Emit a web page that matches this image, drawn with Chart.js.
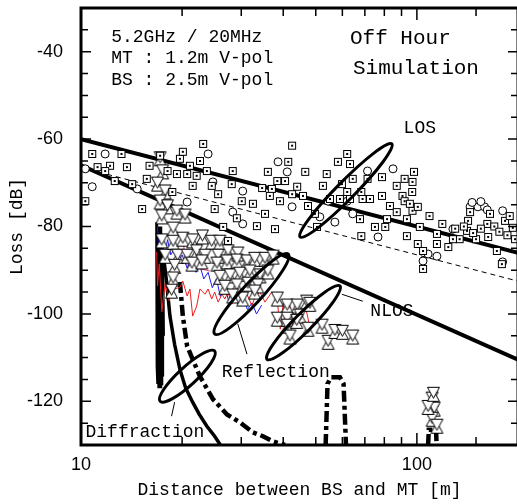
<!DOCTYPE html>
<html>
<head>
<meta charset="utf-8">
<script src="https://cdn.jsdelivr.net/npm/chart.js@4.4.0/dist/chart.umd.min.js"></script>
<style>
  html, body { margin: 0; padding: 0; background: #fff; overflow: hidden; }
  #wrap { width: 540px; height: 504px; }
</style>
</head>
<body>
<div id="wrap"><canvas id="loss-chart"></canvas></div>
<script>
// axis ranges
const X_MIN = 10, X_MAX = 200;
const Y_MIN = -130, Y_MAX = -30;
const X_LABELS = [10, 100];

// [distance m, loss dB]
const losSquares = [
  [10.8,-63.4],[13.2,-63.4],[23.1,-61.1],[11.2,-66.4],[12.2,-66.1],[13.7,-66.4],[11.8,-67.3],[12.6,-69.6],
  [14.2,-70.3],[15.7,-69.1],[16.0,-66.1],[18.1,-67.3],[19.3,-68.0],[20.7,-68.0],[21.1,-66.1],[19.7,-64.5],
  [20.1,-62.9],[22.6,-65.0],[23.7,-67.3],[22.1,-68.4],[21.5,-70.7],[24.5,-70.7],[25.6,-72.6],[28.1,-70.3],
  [28.3,-67.3],[30.1,-74.2],[25.0,-76.0],[29.1,-78.1],[26.5,-80.1],[27.4,-83.3],[18.7,-72.1],[15.2,-76.0],
  [10.3,-74.2],[17.2,-63.8],
  [42.5,-61.5],[41.4,-65.2],[36.0,-67.5],[38.4,-69.6],[40.5,-69.6],[46.5,-67.5],[44.0,-70.9],[34.6,-71.2],
  [37.0,-71.4],[39.1,-74.2],[36.5,-73.0],[32.5,-74.8],[35.3,-77.1],[33.4,-79.9],[37.8,-80.6],[42.5,-72.6],
  [45.8,-73.0],[47.4,-75.3],[49.7,-77.1],[50.4,-80.1],[53.9,-68.0],[52.5,-70.7],[55.1,-73.7],[59.0,-73.7],
  [59.8,-70.3],[58.2,-65.2],[62.0,-63.4],[63.2,-65.7],[64.4,-69.1],[62.0,-72.1],[63.2,-73.7],[68.3,-72.1],
  [71.3,-69.1],[68.9,-73.7],[72.5,-73.7],[67.7,-78.3],[75.0,-80.1],[80.5,-80.1],[68.3,-82.2],[78.7,-68.7],
  [78.7,-73.0],[83.1,-75.3],[87.1,-70.7],[90.6,-73.0],[91.9,-69.1],[97.0,-69.8],[98.0,-67.5],[93.4,-82.2],
  [97.0,-76.4],[93.4,-78.3],[81.5,-78.3],[87.1,-76.7],
  [96.8,-72.1],[91.9,-74.2],[95.3,-74.8],[100.6,-75.5],[109,-77.6],[102,-80.1],[100.6,-84.0],[104.3,-85.6],
  [114.7,-84.0],[114.7,-81.7],[119,-79.4],[104.3,-89.7],[142,-78.7],[141,-81.0],[134,-82.9],[150,-82.9],
  [162,-79.4],[163,-82.4],[173,-85.6],[179,-88.6],[183,-78.7],[128,-82.9],[124,-84.7],[144,-76.7],
  [165,-77.1],[189,-77.6],[196,-82.9],[130,-80.5],[138,-80.0],[147,-81.5],[155,-80.5],[170,-80.0],
  [176,-81.2],[186,-82.0],[193,-80.3]
];
const losCircles = [
  [11.8,-63.4],[10.3,-66.8],[10.8,-70.9],[20.7,-74.4],[14.7,-71.4],[23.9,-63.4],[30.3,-71.9],[28.3,-76.7],
  [30.3,-79.4],[24.7,-69.8],[38.6,-65.2],[41.1,-67.5],[42.5,-75.5],[54.4,-74.2],[57.0,-79.0],[64.4,-77.1],
  [71.3,-67.3],[84.9,-66.8],[76.6,-82.4],[51.4,-77.8],[62.0,-74.2],[144,-75.5],[152,-75.5],[159,-75.5],
  [180,-76.4],[128,-80.6],[114.7,-86.8],[108,-86.3],[104.3,-87.9],[180,-88.1],[146,-74.5],[155,-74.3],
  [162,-76.2]
];
const nlosTriangles = [
  [17.2,-64.5],[17.5,-67.5],[16.9,-70.3],[17.8,-72.1],[17.2,-74.4],[18.1,-75.5],[17.4,-77.8],[19.3,-76.7],
  [20.4,-77.6],[18.8,-80.6],
  [17.4,-83.3],[17.8,-86.8],[18.8,-83.6],[20.1,-82.9],[21.5,-83.3],[23.0,-82.4],[24.5,-83.6],[25.9,-83.6],
  [19.4,-86.8],[20.7,-86.8],[22.1,-85.8],[23.4,-86.8],[25.6,-86.8],[27.4,-85.8],[29.3,-86.3],[19.0,-89.1],
  [21.4,-88.6],[22.9,-88.1],[25.4,-88.6],[27.2,-88.1],[29.1,-87.9],[31.2,-88.1],[32.9,-87.5],[35.3,-87.5],
  [37.3,-87.0],[25.9,-91.6],[27.8,-91.3],[29.7,-90.9],[31.8,-90.4],[34.1,-91.3],[36.0,-90.4],[26.8,-93.9],
  [29.1,-93.6],[31.4,-93.2],[33.6,-93.6],[28.3,-95.9],[30.3,-96.6],[32.9,-95.0],[18.8,-92.0],[18.6,-94.8],
  [38.4,-96.6],[41.1,-98.2],[44.0,-98.2],[47.0,-97.3],[38.4,-101.2],[41.1,-101.2],[44.9,-100.5],[48.0,-97.8],
  [41.1,-102.8],[41.9,-105.3],[43.9,-101.7],[47.4,-103.5],[52.2,-102.8],[54.4,-106.5],[57.0,-104.0],[60.0,-104.2],
  [64.4,-105.3],
  [111,-119.5],[112.6,-121.8],[111,-124.1],[114.7,-125.7],[108,-121.4],[112,-118.4]
];
const simRed = [
  [16.8,-85.8],[16.9,-93.6],[17.1,-88.5],[17.4,-99.5],[17.8,-93.0],[18.3,-97.0],[18.8,-93.5],[19.0,-94.3],
  [19.7,-93.9],[20.1,-92.5],[20.7,-95.9],[21.1,-94.3],[21.5,-100.5],[22.1,-98.2],[22.6,-94.3],[23.4,-95.5],
  [23.9,-94.3],[24.5,-96.6],[25.0,-95.0],[25.6,-97.3],[26.3,-95.5],[26.8,-96.6],[27.4,-95.0],[28.1,-97.8],
  [28.7,-96.2],[29.3,-95.0],[30.1,-97.1],[31.2,-95.5],[32.3,-98.2],[32.9,-96.2],[34.1,-95.0],[35.3,-97.3],
  [37.0,-95.0],[38.4,-97.0],[39.2,-103.5],[40.0,-97.5],[40.8,-104.0],[41.8,-98.0],[42.8,-103.0],[44.0,-97.5],
  [45.0,-102.5],[46.5,-98.0],[48.0,-103.0]
];
const simBlue = [
  [16.9,-80.0],[17.0,-84.0],[17.3,-82.0],[17.7,-87.0],[18.1,-83.0],[18.5,-86.5],[19.0,-85.0],[19.5,-88.0],
  [20.0,-86.5],[20.7,-89.5],[21.3,-87.5],[22.0,-90.5],[22.6,-89.0],[23.2,-92.0],[23.9,-90.5],[24.6,-94.0],
  [25.3,-92.0],[26.0,-96.0],[26.8,-93.5],[27.6,-97.5],[28.5,-95.0],[29.4,-98.0],[30.3,-96.0],[31.3,-99.0],
  [32.3,-97.5],[33.3,-100.0],[34.5,-98.0]
];
const simPink = [[20.2,-84.0],[20.5,-88.5],[21.2,-89.3],[22.4,-89.6],[23.6,-90.0],[24.2,-90.2]];
const diffSpikes = [
  [16.8,-79],[16.85,-112],[16.9,-80],[16.95,-116],[17.0,-80],[17.05,-117],[17.1,-80],[17.15,-117],
  [17.2,-82],[17.25,-117],[17.3,-80],[17.35,-116],[17.4,-82],[17.45,-114],[17.5,-84],[17.6,-105]
];
const diffSolid = [
  [17.5,-85.2],[18.0,-93.0],[18.4,-100.5],[19.0,-107.0],[19.7,-112.7],[20.5,-117.0],[21.5,-120.2],
  [22.5,-123.0],[23.7,-125.7],[25.0,-128.0],[26.0,-130.0]
];
const diffDashed = [
  [19.7,-92.7],[20.1,-100.5],[20.7,-107.4],[22.6,-114.3],[24.7,-119.5],[27.2,-123.0],[29.7,-124.8],
  [32.5,-127.1],[34.8,-128.0],[37.3,-129.2],[40.5,-130.0],[45,null],
  [53.5,-130.0],[54.2,-116.0],[55.5,-114.5],[59.0,-114.5],[60.5,-116.0],[61.5,-130.0],[65,null],
  [108,-130.0],[108.5,-126.5],[114,-126.5],[114.5,-130.0]
];
const losUpper = [[10,-60],[200,-86]];
const nlosLower = [[10,-66],[200,-110.5]];
const losMid = [[10,-66.5],[200,-92.5]];

// annotations, in data units
const ellipses = [
  { from: [44.9,-82.4], to: [84.2,-61.1], r: 9 },
  { from: [35.8,-110.4], to: [59.0,-93.6], r: 9 },
  { from: [25.0,-104.6], to: [41.4,-86.3], r: 10 },
  { from: [17.2,-120.0], to: [25.0,-108.5], r: 9 }
];
const leaders = [
  [[59.8,-95.5],[69.0,-97.1]],
  [[29.3,-102.3],[31.2,-109.2]],
  [[19.0,-120.2],[18.6,-123.4]]
];
const notes = [
  { text: '5.2GHz / 20MHz', at: [12.3,-36.6], align: 'left', size: 18 },
  { text: 'MT : 1.2m V-pol', at: [12.3,-41.6], align: 'left', size: 18 },
  { text: 'BS : 2.5m V-pol', at: [12.3,-46.6], align: 'left', size: 18 },
  { text: 'Off Hour', at: [63.2,-37.0], align: 'left', size: 21 },
  { text: 'Simulation', at: [64.5,-43.9], align: 'left', size: 21 },
  { text: 'LOS', at: [102,-57.6], align: 'center', size: 18 },
  { text: 'NLOS', at: [84.3,-99.4], align: 'center', size: 18 },
  { text: 'Reflection', at: [38.0,-113.4], align: 'center', size: 18 },
  { text: 'Diffraction', at: [15.5,-127.1], align: 'center', size: 18 }
];

const MONO = '"Liberation Mono", "DejaVu Sans Mono", monospace';
const PLOT_RIGHT = 518; // right frame sits just outside the 517px window

function toXY(pairs) {
  return pairs.map(([x, y]) => ({ x: x, y: y }));
}

// marker images
function squareMark() {
  const c = document.createElement('canvas');
  c.width = 10; c.height = 10;
  const g = c.getContext('2d');
  g.fillStyle = '#fff'; g.fillRect(1, 1, 8, 8);
  g.strokeStyle = '#000'; g.lineWidth = 1; g.strokeRect(1.5, 1.5, 7, 7);
  g.fillStyle = '#000'; g.fillRect(4, 4, 2, 2);
  return c;
}
function starMark() {
  const c = document.createElement('canvas');
  c.width = 15; c.height = 17;
  const g = c.getContext('2d');
  g.fillStyle = '#fff'; g.strokeStyle = '#000'; g.lineWidth = 1;
  g.beginPath(); g.moveTo(1.5, 15.5); g.lineTo(13.5, 15.5); g.lineTo(7.5, 4.5); g.closePath(); g.fill(); g.stroke();
  g.beginPath(); g.moveTo(1.5, 1.5); g.lineTo(13.5, 1.5); g.lineTo(7.5, 12.5); g.closePath(); g.fill(); g.stroke();
  return c;
}

function lineSet(pairs, color, width, dash, order) {
  return {
    data: toXY(pairs), showLine: true, borderColor: color, borderWidth: width,
    borderDash: dash || [], pointRadius: 0, spanGaps: false, order: order, tension: 0
  };
}

const framePlugin = {
  id: 'frame',
  afterDatasetsDraw(chart) {
    const { ctx, scales: { x, y } } = chart;
    const px = p => [x.getPixelForValue(p[0]), y.getPixelForValue(p[1])];
    ctx.save();
    ctx.strokeStyle = '#000';
    ctx.lineWidth = 3;
    ellipses.forEach(e => {
      const [x1, y1] = px(e.from), [x2, y2] = px(e.to);
      const a = Math.hypot(x2 - x1, y2 - y1) / 2;
      ctx.beginPath();
      ctx.ellipse((x1 + x2) / 2, (y1 + y2) / 2, a, e.r, Math.atan2(y2 - y1, x2 - x1), 0, Math.PI * 2);
      ctx.stroke();
    });
    ctx.lineWidth = 1;
    leaders.forEach(([p1, p2]) => {
      const [x1, y1] = px(p1), [x2, y2] = px(p2);
      ctx.beginPath(); ctx.moveTo(x1, y1); ctx.lineTo(x2, y2); ctx.stroke();
    });
    ctx.fillStyle = '#000';
    ctx.textBaseline = 'middle';
    notes.forEach(n => {
      const [tx, ty] = px(n.at);
      ctx.font = n.size + 'px ' + MONO;
      ctx.textAlign = n.align;
      ctx.fillText(n.text, tx, ty);
    });
    ctx.restore();
  },
  afterDraw(chart) {
    const { ctx, chartArea: a, scales: { x, y } } = chart;
    ctx.save();
    ctx.strokeStyle = '#000';
    ctx.lineWidth = 1.5;
    ctx.beginPath();
    y.ticks.forEach(t => {
      const py = y.getPixelForValue(t.value);
      const len = t.value % 20 === 0 ? 10 : 7;
      ctx.moveTo(a.left, py); ctx.lineTo(a.left + len, py);
      ctx.moveTo(a.right, py); ctx.lineTo(a.right - len, py);
    });
    x.ticks.forEach(t => {
      const ppx = x.getPixelForValue(t.value);
      const len = X_LABELS.includes(t.value) ? 12 : 8;
      ctx.moveTo(ppx, a.bottom); ctx.lineTo(ppx, a.bottom - len);
      ctx.moveTo(ppx, a.top); ctx.lineTo(ppx, a.top + len);
    });
    ctx.stroke();
    ctx.lineWidth = 3;
    ctx.beginPath();
    ctx.moveTo(a.right, a.top); ctx.lineTo(a.left, a.top); ctx.lineTo(a.left, a.bottom); ctx.lineTo(a.right, a.bottom); ctx.lineTo(a.right, a.top);
    ctx.stroke();
    ctx.restore();
  }
};

document.addEventListener('DOMContentLoaded', function () {
  const sq = squareMark();
  const star = starMark();

  const datasets = [
    { data: toXY(losSquares), pointStyle: sq, pointRadius: 5, order: 1 },
    { data: toXY(losCircles), pointStyle: 'circle', pointRadius: 4, backgroundColor: '#fff', borderColor: '#000', borderWidth: 1, order: 2 },
    { data: toXY(nlosTriangles), pointStyle: star, pointRadius: 7, order: 3 },
    lineSet(simRed, '#ee1c1c', 1, null, 4),
    lineSet(simBlue, '#1a1aee', 1, null, 5),
    lineSet(simPink, '#ee2a8a', 1, null, 6),
    lineSet(diffSpikes, '#000', 3, null, 7),
    lineSet(diffSolid, '#000', 3.5, null, 8),
    lineSet(diffDashed, '#000', 4.5, [11, 4, 4, 4], 9),
    lineSet(losUpper, '#000', 4, null, 10),
    lineSet(nlosLower, '#000', 4, null, 11),
    lineSet(losMid, '#000', 1, [5, 4], 12)
  ];

  const chart = new Chart(document.getElementById('loss-chart'), {
    type: 'scatter',
    data: { datasets: datasets },
    options: {
      responsive: true,
      maintainAspectRatio: false,
      animation: false,
      layout: { padding: { top: 8, right: 2, left: 0, bottom: 0 } },
      plugins: { legend: { display: false }, tooltip: { enabled: false } },
      scales: {
        x: {
          type: 'logarithmic', min: X_MIN, max: X_MAX,
          grid: { display: false, drawTicks: false },
          border: { display: false },
          ticks: {
            autoSkip: false, maxRotation: 0, padding: 9, color: '#000',
            font: { family: '"Liberation Sans", Arial, sans-serif', size: 18 },
            callback: v => X_LABELS.includes(v) ? String(v) : ''
          },
          title: {
            display: true, text: 'Distance between BS and MT [m]', color: '#000',
            font: { family: MONO, size: 18 }, padding: { top: 0, bottom: 3 }
          },
          afterFit: s => { s.height = 59; s.paddingLeft = 0; s.paddingRight = 0; }
        },
        y: {
          min: Y_MIN, max: Y_MAX,
          grid: { display: false, drawTicks: false },
          border: { display: false },
          ticks: {
            stepSize: 5, autoSkip: false, padding: 18, color: '#000',
            font: { family: '"Liberation Sans", Arial, sans-serif', size: 18 },
            callback: v => v % 20 === 0 ? String(v) : ''
          },
          title: {
            display: true, text: 'Loss [dB]', color: '#000',
            font: { family: MONO, size: 18 }, padding: { top: 6, bottom: 0 }
          },
          afterFit: s => { s.width = 81; s.paddingTop = 0; s.paddingBottom = 0; }
        }
      }
    },
    plugins: [framePlugin]
  });

  // pin the plot's right edge (layout adds its own slack, so settle it in a few passes)
  for (let i = 0; i < 4; i++) {
    const extra = chart.chartArea.right - PLOT_RIGHT;
    if (Math.abs(extra) < 0.5) break;
    chart.options.layout.padding.right = Math.max(0, chart.options.layout.padding.right + extra);
    chart.update();
  }
});
</script>
</body>
</html>
